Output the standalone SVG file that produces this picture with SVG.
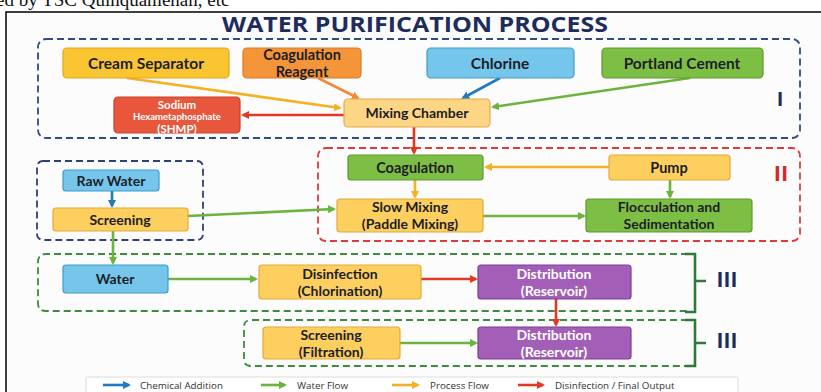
<svg xmlns="http://www.w3.org/2000/svg" width="821" height="392" viewBox="0 0 821 392">
<style>
.t{font-family:Lato,"Open Sans","DejaVu Sans",sans-serif;font-weight:700;text-anchor:middle;fill:#1d1d28}
.n{font-size:14px}
.n1{font-size:15.5px}
.w{fill:#ffffff}
.box{stroke-width:1.2}
.y{fill:#f9c531;stroke:#e2a41c}
.ly{fill:#fccf5e;stroke:#e3a93a}
.lm{fill:#fcd684;stroke:#e4a94a}
.o{fill:#f4953a;stroke:#de7a22}
.b{fill:#76c6ec;stroke:#3c9ccc}
.g{fill:#7dbf45;stroke:#5c9a2f}
.r{fill:#e8573b;stroke:#c9402a}
.p{fill:#a35fb8;stroke:#7c3d93}
.dash{fill:none;stroke-width:1.8;stroke-dasharray:7 4}
.c{fill:none;stroke-width:2.6}
.lbl{font-family:"Open Sans","Noto Sans","DejaVu Sans",sans-serif;font-weight:700}
.lg{font-family:"Open Sans","Noto Sans","DejaVu Sans",sans-serif;font-size:9.8px;fill:#333}
</style>
<defs>
<marker id="mb" markerWidth="8" markerHeight="8" refX="6" refY="4" orient="auto" markerUnits="userSpaceOnUse"><path d="M0,0 L8,4 L0,8 z" fill="#1f7bbf"/></marker>
<marker id="mg" markerWidth="8" markerHeight="8" refX="6" refY="4" orient="auto" markerUnits="userSpaceOnUse"><path d="M0,0 L8,4 L0,8 z" fill="#6ab43e"/></marker>
<marker id="my" markerWidth="8" markerHeight="8" refX="6" refY="4" orient="auto" markerUnits="userSpaceOnUse"><path d="M0,0 L8,4 L0,8 z" fill="#f5b024"/></marker>
<marker id="mr" markerWidth="8" markerHeight="8" refX="6" refY="4" orient="auto" markerUnits="userSpaceOnUse"><path d="M0,0 L8,4 L0,8 z" fill="#e03a22"/></marker>
<marker id="mo" markerWidth="8" markerHeight="8" refX="6" refY="4" orient="auto" markerUnits="userSpaceOnUse"><path d="M0,0 L8,4 L0,8 z" fill="#f08a3a"/></marker>
</defs>
<rect x="0" y="0" width="821" height="392" fill="#ffffff"/>
<text x="-4" y="6" font-family="Liberation Serif,serif" font-size="19" fill="#111">ed by  TSC Quinquamenan,  etc</text>
<rect x="6" y="12" width="820" height="385" fill="#fcfcfc" stroke="#111" stroke-width="1.6"/>
<text class="lbl" x="415" y="32" font-size="22" fill="#1e2c5c" text-anchor="middle" textLength="386" lengthAdjust="spacingAndGlyphs">WATER PURIFICATION PROCESS</text>

<g id="groups">
<rect id="sec1" class="dash" x="38" y="39" width="762" height="99" rx="8" stroke="#2f4d80"/>
<rect id="sec2" class="dash" x="318" y="148" width="482" height="93" rx="8" stroke="#e03b3b"/>
<rect id="secraw" class="dash" x="37" y="161" width="166" height="79" rx="6" stroke="#2f4078"/>
<path id="sec3a" class="dash" d="M688,254 H46 Q38,254 38,262 V303 Q38,311 46,311 H688" stroke="#3f8a3f"/>
<path class="c" d="M685,254 H695 V312 H685 M695,281 H706" stroke="#2f7a3a" stroke-width="2.2"/>
<path id="sec3b" class="dash" d="M688,320 H251 Q244,320 244,327 V359 Q244,366 251,366 H688" stroke="#3f8a3f"/>
<path class="c" d="M685,320 H695 V366 H685 M695,343 H706" stroke="#2f7a3a" stroke-width="2.2"/>
<text class="lbl" x="780" y="106" font-size="20" fill="#1e2c5c" text-anchor="middle">I</text>
<text class="lbl" x="781" y="181" font-size="22" fill="#d42a2a" text-anchor="middle">II</text>
<text class="lbl" x="727" y="287" font-size="21" fill="#1e2c5c" text-anchor="middle">III</text>
<text class="lbl" x="727" y="348" font-size="21" fill="#1e2c5c" text-anchor="middle">III</text>
</g>

<g id="connectors">
<path class="c" d="M127,78 L340,108" stroke="#f5b024" marker-end="url(#my)"/>
<path class="c" d="M318,78 L358,98" stroke="#f08a3a" marker-end="url(#mo)"/>
<path class="c" d="M500,78 L463,98" stroke="#1f7bbf" marker-end="url(#mb)"/>
<path class="c" d="M690,78 L493,107" stroke="#6ab43e" marker-end="url(#mg)"/>
<path class="c" d="M344,115 L243,115" stroke="#e03a22" marker-end="url(#mr)"/>
<path class="c" d="M414,127 L414,153" stroke="#e03a22" marker-end="url(#mr)"/>
<path class="c" d="M609,167 L486,167" stroke="#f5b024" marker-end="url(#my)"/>
<path class="c" d="M415,180 L415,197" stroke="#f5b024" marker-end="url(#my)"/>
<path class="c" d="M670,180 L670,197" stroke="#6ab43e" marker-end="url(#mg)"/>
<path class="c" d="M483,216 L584,216" stroke="#6ab43e" marker-end="url(#mg)"/>
<path class="c" d="M112,191 L112,206" stroke="#1f7bbf" marker-end="url(#mb)"/>
<path class="c" d="M188,216 L334,209" stroke="#6ab43e" marker-end="url(#mg)"/>
<path class="c" d="M113,231 L113,263" stroke="#6ab43e" marker-end="url(#mg)"/>
<path class="c" d="M168,279 L256,279" stroke="#6ab43e" marker-end="url(#mg)"/>
<path class="c" d="M421,279 L476,279" stroke="#e03a22" marker-end="url(#mr)"/>
<path class="c" d="M556,299 L556,325" stroke="#e03a22" marker-end="url(#mr)"/>
<path class="c" d="M400,343 L476,343" stroke="#6ab43e" marker-end="url(#mg)"/>
</g>

<g id="cream"><rect class="box y" x="63" y="48" width="166" height="30" rx="4"/><text class="t n1" x="146" y="68.5">Cream Separator</text></g>
<g id="coagreagent"><rect class="box o" x="243" y="48" width="118" height="30" rx="4"/><text class="t" font-size="14.5" x="302" y="60">Coagulation<tspan x="302" dy="17.4">Reagent</tspan></text></g>
<g id="chlorine"><rect class="box b" x="427" y="48" width="147" height="30" rx="4"/><text class="t n1" x="500" y="68.5">Chlorine</text></g>
<g id="portland"><rect class="box g" x="602" y="48" width="161" height="30" rx="4"/><text class="t n1" x="682" y="68.5">Portland Cement</text></g>
<g id="shmp"><rect class="box r" x="114" y="97" width="126" height="36" rx="4"/><text class="t w" x="177" y="108.5" font-size="11.5">Sodium<tspan x="177" dy="11.6" font-size="9.5">Hexametaphosphate</tspan><tspan x="177" dy="13.3">(SHMP)</tspan></text></g>
<g id="mixing"><rect class="box lm" x="344" y="99" width="146" height="28" rx="4"/><text class="t n" x="417" y="118">Mixing Chamber</text></g>
<g id="coagulation"><rect class="box g" x="348" y="155" width="135" height="25" rx="3"/><text class="t" font-size="14.5" x="415" y="172.5">Coagulation</text></g>
<g id="pump"><rect class="box ly" x="609" y="155" width="121" height="25" rx="3"/><text class="t" font-size="14.5" x="669" y="172.5">Pump</text></g>
<g id="slowmixing"><rect class="box ly" x="337" y="199" width="146" height="33" rx="3"/><text class="t n" x="410" y="212">Slow Mixing<tspan x="410" dy="16.9">(Paddle Mixing)</tspan></text></g>
<g id="flocculation"><rect class="box g" x="586" y="199" width="166" height="33" rx="3"/><text class="t n" x="669" y="212">Flocculation and<tspan x="669" dy="16.9">Sedimentation</tspan></text></g>
<g id="rawwater"><rect class="box b" x="63" y="170" width="96" height="21" rx="3"/><text class="t n" x="111" y="185.5">Raw Water</text></g>
<g id="screening"><rect class="box ly" x="53" y="208" width="135" height="23" rx="3"/><text class="t n" x="120" y="224.5">Screening</text></g>
<g id="water"><rect class="box b" x="63" y="265" width="105" height="28" rx="3"/><text class="t n" x="115" y="284">Water</text></g>
<g id="disinfection"><rect class="box ly" x="259" y="265" width="162" height="34" rx="3"/><text class="t n" x="340" y="279">Disinfection<tspan x="340" dy="16.9">(Chlorination)</tspan></text></g>
<g id="distribution1"><rect class="box p" x="478" y="265" width="153" height="34" rx="3"/><text class="t n w" x="554" y="279">Distribution<tspan x="554" dy="16.9">(Reservoir)</tspan></text></g>
<g id="screening2"><rect class="box ly" x="263" y="327" width="137" height="32" rx="3"/><text class="t n" x="331" y="340">Screening<tspan x="331" dy="16.9">(Filtration)</tspan></text></g>
<g id="distribution2"><rect class="box p" x="478" y="327" width="153" height="32" rx="3"/><text class="t n w" x="554" y="340">Distribution<tspan x="554" dy="16.9">(Reservoir)</tspan></text></g>

<g id="legend">
<rect x="86" y="377" width="652" height="24" rx="2" fill="#ffffff" stroke="#dcdcdc"/>
<path class="c" d="M103,385 L129,385" stroke="#1f7bbf" marker-end="url(#mb)"/>
<text class="lg" x="140" y="389">Chemical Addition</text>
<path class="c" d="M261,385 L285,385" stroke="#6ab43e" marker-end="url(#mg)"/>
<text class="lg" x="297" y="389">Water Flow</text>
<path class="c" d="M392,385 L418,385" stroke="#f5b024" marker-end="url(#my)"/>
<text class="lg" x="430" y="389">Process Flow</text>
<path class="c" d="M518,385 L543,385" stroke="#e03a22" marker-end="url(#mr)"/>
<text class="lg" x="555" y="389">Disinfection / Final Output</text>
</g>
</svg>
